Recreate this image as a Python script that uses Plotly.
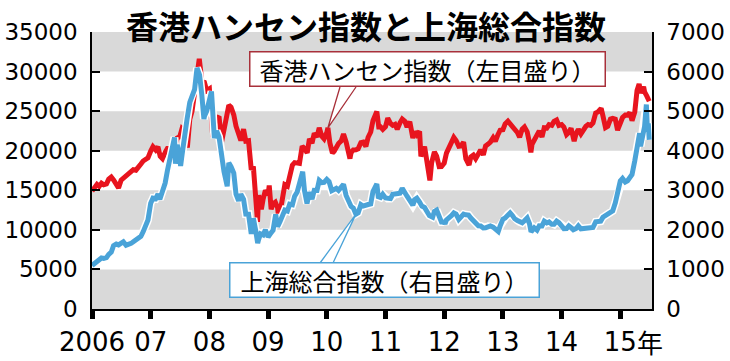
import plotly.graph_objects as go
import pandas as pd

# ---------------- data ----------------
hsi = [
    ("2006-01-01",14900),("2006-01-15",15400),("2006-02-01",15750),("2006-02-15",15500),("2006-03-01",15900),("2006-03-15",15700),
    ("2006-04-01",15800),("2006-04-15",16400),("2006-05-01",16660),("2006-05-15",16300),("2006-06-01",15850),("2006-06-15",15300),
    ("2006-07-01",16270),("2006-07-15",16500),("2006-08-01",16970),("2006-08-15",17100),("2006-09-01",17390),("2006-09-15",17600),
    ("2006-10-01",17540),("2006-10-15",18000),("2006-11-01",18320),("2006-11-15",18700),("2006-12-01",18960),("2006-12-15",19100),
    ("2007-01-01",19960),("2007-01-15",20500),("2007-02-01",20100),("2007-02-15",20500),("2007-03-01",19300),("2007-03-15",19000),
    ("2007-04-01",19800),("2007-04-15",20300),("2007-05-01",20320),("2007-05-15",20500),("2007-06-01",20630),("2007-06-15",21600),
    ("2007-07-01",21770),("2007-07-15",22800),("2007-08-01",22500),("2007-08-17",20400),("2007-09-01",23980),("2007-09-15",25000),
    ("2007-10-01",27140),("2007-10-15",29500),("2007-10-30",31600),("2007-11-15",28800),("2007-12-01",28640),("2007-12-15",27600),
    ("2008-01-01",27810),("2008-01-22",21700),("2008-02-01",23460),("2008-02-15",24100),("2008-03-01",24330),("2008-03-17",21100),
    ("2008-04-01",22850),("2008-04-15",24100),("2008-05-01",25750),("2008-05-15",25500),("2008-06-01",24530),("2008-06-15",23100),
    ("2008-07-01",22100),("2008-07-15",21300),("2008-08-01",22730),("2008-08-15",21200),("2008-09-01",21260),("2008-09-18",17600),
    ("2008-10-01",18020),("2008-10-15",15000),("2008-10-27",11020),("2008-11-03",14380),("2008-11-20",12600),("2008-12-01",13890),
    ("2008-12-15",15000),
    ("2009-01-01",14390),("2009-01-08",15600),("2009-01-20",12600),("2009-02-01",13280),("2009-02-15",13500),("2009-03-01",12810),
    ("2009-03-09",11350),("2009-03-20",12900),("2009-04-01",13580),("2009-04-15",15700),("2009-05-01",15520),("2009-05-15",17000),
    ("2009-06-01",18170),("2009-06-15",18500),("2009-07-01",18380),("2009-07-15",18400),("2009-08-01",20570),("2009-08-15",20300),
    ("2009-09-01",19720),("2009-09-15",21500),("2009-10-01",20960),("2009-10-15",22200),("2009-11-01",21750),("2009-11-15",22900),
    ("2009-12-01",21820),("2009-12-15",21500),
    ("2010-01-01",22300),("2010-01-08",22900),("2010-01-20",21000),("2010-02-05",19700),("2010-02-15",19900),("2010-03-01",20610),
    ("2010-03-15",20900),("2010-04-01",21240),("2010-04-15",22100),("2010-05-01",21110),("2010-05-25",19000),("2010-06-01",19770),
    ("2010-06-15",20100),("2010-07-01",20130),("2010-07-15",20250),("2010-08-01",21030),("2010-08-15",21100),("2010-09-01",20540),
    ("2010-09-15",21700),("2010-10-01",22360),("2010-10-15",23800),("2010-11-08",24960),("2010-11-20",23000),("2010-12-01",23010),
    ("2010-12-15",22700),
    ("2011-01-01",23040),("2011-01-15",24100),("2011-02-01",23450),("2011-02-15",23200),("2011-03-01",23340),("2011-03-15",22700),
    ("2011-04-01",23530),("2011-04-15",24000),("2011-05-01",23720),("2011-05-15",23000),("2011-06-01",23680),("2011-06-20",21600),
    ("2011-07-01",22400),("2011-07-15",22000),("2011-08-01",22440),("2011-08-09",19300),("2011-09-01",20530),("2011-09-15",19000),
    ("2011-10-04",16250),("2011-10-15",18500),("2011-11-01",19860),("2011-11-15",19300),("2011-12-01",17990),("2011-12-15",18000),
    ("2012-01-01",18430),("2012-01-15",19700),("2012-02-01",20390),("2012-02-15",21300),("2012-03-01",21680),("2012-03-15",21300),
    ("2012-04-01",20560),("2012-04-15",20600),("2012-05-01",21090),("2012-05-15",19000),("2012-06-04",18190),("2012-06-15",19200),
    ("2012-07-01",19440),("2012-07-15",19000),("2012-08-01",19800),("2012-08-15",20100),("2012-09-01",19480),("2012-09-15",20600),
    ("2012-10-01",20840),("2012-10-15",21100),("2012-11-01",21640),("2012-11-15",21200),("2012-12-01",22030),("2012-12-15",22600),
    ("2013-01-01",22660),("2013-01-15",23400),("2013-02-01",23730),("2013-02-15",23400),("2013-03-01",23020),("2013-03-15",22500),
    ("2013-04-01",22300),("2013-04-15",21700),("2013-05-01",22740),("2013-05-15",23000),("2013-06-01",22390),("2013-06-15",21000),
    ("2013-06-24",19800),("2013-07-01",20800),("2013-07-15",21300),("2013-08-01",21880),("2013-08-15",22500),("2013-09-01",21730),
    ("2013-09-15",22900),("2013-10-01",22860),("2013-10-15",23300),("2013-11-01",23210),("2013-11-15",23700),("2013-12-01",23880),
    ("2013-12-15",23200),
    ("2014-01-01",23310),("2014-01-15",23000),("2014-02-01",22040),("2014-02-15",22300),("2014-03-01",22840),("2014-03-20",21200),
    ("2014-04-01",22150),("2014-04-15",22700),("2014-05-01",22130),("2014-05-15",22700),("2014-06-01",23080),("2014-06-15",23300),
    ("2014-07-01",23190),("2014-07-15",23500),("2014-08-01",24760),("2014-08-15",24900),("2014-09-04",25360),("2014-09-15",24400),
    ("2014-10-01",22930),("2014-10-15",23100),("2014-11-01",24000),("2014-11-15",24100),("2014-12-01",23990),("2014-12-15",22600),
    ("2015-01-01",23600),("2015-01-15",24200),("2015-02-01",24510),("2015-02-15",24500),("2015-03-01",24820),("2015-03-15",23800),
    ("2015-04-01",24900),("2015-04-15",27600),("2015-04-28",28440),("2015-05-08",27300),("2015-05-26",28080),("2015-06-01",27420),
    ("2015-06-15",26900),("2015-06-30",26250),
]

sse = [
    ("2006-01-01",1100),("2006-01-15",1150),("2006-02-01",1220),("2006-02-15",1260),("2006-03-01",1290),("2006-03-15",1280),
    ("2006-04-01",1298),("2006-04-15",1380),("2006-05-01",1440),("2006-05-15",1600),("2006-06-01",1641),("2006-06-15",1620),
    ("2006-07-01",1672),("2006-07-15",1700),("2006-08-01",1612),("2006-08-15",1620),("2006-09-01",1658),("2006-09-15",1700),
    ("2006-10-01",1753),("2006-10-15",1800),("2006-11-01",1837),("2006-11-15",1950),("2006-12-01",2099),("2006-12-15",2250),
    ("2007-01-01",2675),("2007-01-15",2800),("2007-02-01",2786),("2007-02-15",2900),("2007-02-27",2772),("2007-03-01",2797),
    ("2007-03-15",2900),("2007-04-01",3183),("2007-04-15",3500),("2007-05-01",3841),("2007-05-15",4000),("2007-05-29",4335),
    ("2007-06-04",3670),("2007-06-15",4150),("2007-07-01",3820),("2007-07-06",3615),("2007-07-15",3900),("2007-08-01",4471),
    ("2007-08-15",4800),("2007-09-01",5219),("2007-09-15",5400),("2007-10-01",5552),("2007-10-16",6092),("2007-11-01",5914),
    ("2007-11-15",5400),("2007-11-28",4803),("2007-12-01",4871),("2007-12-15",5000),
    ("2008-01-01",5262),("2008-01-14",5497),("2008-02-01",4320),("2008-02-15",4500),("2008-03-01",4348),("2008-03-15",3900),
    ("2008-04-01",3473),("2008-04-21",3100),("2008-05-01",3693),("2008-05-15",3600),("2008-06-01",3433),("2008-06-15",2900),
    ("2008-07-01",2736),("2008-07-15",2900),("2008-08-01",2775),("2008-08-15",2400),("2008-09-01",2397),("2008-09-18",1895),
    ("2008-10-01",2293),("2008-10-15",2000),("2008-10-28",1664),("2008-11-01",1729),("2008-11-15",1900),("2008-12-01",1871),
    ("2008-12-15",2000),
    ("2009-01-01",1821),("2009-01-15",1900),("2009-02-01",1991),("2009-02-17",2390),("2009-03-01",2082),("2009-03-15",2200),
    ("2009-04-01",2373),("2009-04-15",2500),("2009-05-01",2477),("2009-05-15",2650),("2009-06-01",2633),("2009-06-15",2850),
    ("2009-07-01",2959),("2009-07-15",3200),("2009-08-04",3471),("2009-08-15",3000),("2009-08-31",2667),("2009-09-15",2950),
    ("2009-10-01",2779),("2009-10-15",3000),("2009-11-01",2996),("2009-11-15",3250),("2009-12-01",3195),("2009-12-15",3200),
    ("2010-01-01",3277),("2010-01-15",3220),("2010-02-01",2989),("2010-02-15",3018),("2010-03-01",3051),("2010-03-15",3000),
    ("2010-04-01",3110),("2010-04-15",3150),("2010-05-01",2870),("2010-05-15",2700),("2010-06-01",2592),("2010-06-15",2550),
    ("2010-07-01",2398),("2010-07-15",2430),("2010-08-01",2638),("2010-08-15",2600),("2010-09-01",2639),("2010-09-15",2640),
    ("2010-10-01",2656),("2010-10-15",2970),("2010-11-08",3159),("2010-11-17",2840),("2010-12-01",2820),("2010-12-15",2900),
    ("2011-01-01",2808),("2011-01-15",2790),("2011-02-01",2790),("2011-02-15",2900),("2011-03-01",2905),("2011-03-15",2900),
    ("2011-04-01",2928),("2011-04-15",3050),("2011-05-01",2911),("2011-05-15",2850),("2011-06-01",2743),("2011-06-20",2621),
    ("2011-07-01",2762),("2011-07-15",2800),("2011-08-01",2701),("2011-08-15",2600),("2011-09-01",2568),("2011-09-15",2450),
    ("2011-10-01",2359),("2011-10-21",2318),("2011-11-01",2468),("2011-11-15",2500),("2011-12-01",2333),("2011-12-15",2200),
    ("2012-01-01",2199),("2012-01-06",2148),("2012-01-15",2250),("2012-02-01",2292),("2012-02-15",2360),("2012-03-01",2428),
    ("2012-03-15",2400),("2012-04-01",2262),("2012-04-15",2350),("2012-05-01",2396),("2012-05-15",2380),("2012-06-01",2372),
    ("2012-06-15",2300),("2012-07-01",2225),("2012-07-15",2170),("2012-08-01",2103),("2012-08-15",2100),("2012-09-01",2047),
    ("2012-09-15",2050),("2012-10-01",2086),("2012-10-15",2100),("2012-11-01",2069),("2012-11-15",2030),("2012-12-03",1959),
    ("2012-12-15",2100),
    ("2013-01-01",2269),("2013-01-15",2300),("2013-02-01",2385),("2013-02-15",2430),("2013-03-01",2365),("2013-03-15",2280),
    ("2013-04-01",2237),("2013-04-15",2200),("2013-05-01",2177),("2013-05-15",2230),("2013-06-01",2301),("2013-06-15",2160),
    ("2013-06-25",1950),("2013-07-01",1979),("2013-07-15",2050),("2013-08-01",1994),("2013-08-15",2100),("2013-09-01",2098),
    ("2013-09-15",2220),("2013-10-01",2175),("2013-10-15",2200),("2013-11-01",2141),("2013-11-15",2140),("2013-12-01",2220),
    ("2013-12-15",2180),
    ("2014-01-01",2116),("2014-01-15",2030),("2014-02-01",2033),("2014-02-15",2100),("2014-03-01",2056),("2014-03-15",2000),
    ("2014-04-01",2033),("2014-04-15",2100),("2014-05-01",2026),("2014-05-15",2030),("2014-06-01",2039),("2014-06-15",2070),
    ("2014-07-01",2048),("2014-07-15",2060),("2014-08-01",2202),("2014-08-15",2220),("2014-09-01",2217),("2014-09-15",2320),
    ("2014-10-01",2364),("2014-10-15",2370),("2014-11-01",2420),("2014-11-15",2480),("2014-12-01",2683),("2014-12-15",2950),
    ("2015-01-01",3235),("2015-01-15",3300),("2015-02-01",3210),("2015-02-15",3240),("2015-03-01",3310),("2015-03-15",3400),
    ("2015-04-01",3748),("2015-04-15",4100),("2015-05-01",4442),("2015-05-07",4112),("2015-05-15",4300),("2015-06-01",4612),
    ("2015-06-12",5166),("2015-06-19",4478),("2015-06-24",4690),("2015-06-30",4277),
]

hsi_dates = [d for d, _ in hsi]
hsi_values = [v for _, v in hsi]
sse_dates = [d for d, _ in sse]
sse_values = [v for _, v in sse]

years = list(range(2006, 2016))
year_labels = ["2006", "07", "08", "09", "10", "11", "12", "13", "14", "15"]
left_ticks = list(range(0, 35001, 5000))
right_ticks = list(range(0, 7001, 1000))

title_text = "香港ハンセン指数と上海総合指数"
hsi_label = "香港ハンセン指数（左目盛り）"
sse_label = "上海総合指数（右目盛り）"


def dec_year(s):
    d = pd.Timestamp(s)
    start = pd.Timestamp(year=d.year, month=1, day=1)
    ndays = 366 if d.is_leap_year else 365
    return d.year + (d - start).days / ndays


hsi_x = [dec_year(d) for d in hsi_dates]
sse_x = [dec_year(d) for d in sse_dates]

# ---------------- layout geometry ----------------
W, H = 730, 361
ML, MR, MT, MB = 92, 78, 32, 52
PW, PH = W - ML - MR, H - MT - MB
X0, X1 = 2006.0, 2015.54
YMAX, Y2MAX = 35000, 7000


def px_to_x(px):
    return X0 + (px - ML) / PW * (X1 - X0)


def py_to_y(py, ymax=YMAX):
    return (MT + PH - py) / PH * ymax


def px_to_paper(px):
    return (px - ML) / PW


def py_to_paper(py):
    return (MT + PH - py) / PH


RED = "#e8141e"
BLUE = "#4aa3d8"
GRAY = "#d9d9d9"
NUM_FONT = "DejaVu Sans, Noto Sans CJK JP"
JP_FONT = "Noto Sans CJK JP"

fig = go.Figure()

# Hang Seng (left axis)
fig.add_trace(go.Scatter(x=hsi_x, y=hsi_values, mode="lines", yaxis="y",
                         line=dict(color=RED, width=5), hoverinfo="skip", showlegend=False))
# Shanghai (right axis) with white halo
fig.add_trace(go.Scatter(x=sse_x, y=sse_values, mode="lines", yaxis="y2",
                         line=dict(color="white", width=8), hoverinfo="skip", showlegend=False))
fig.add_trace(go.Scatter(x=sse_x, y=sse_values, mode="lines", yaxis="y2",
                         line=dict(color=BLUE, width=5), hoverinfo="skip", showlegend=False))

shapes = []
# alternating gray bands
for lo in range(0, 35000, 10000):
    shapes.append(dict(type="rect", xref="paper", yref="y", x0=0, x1=1, y0=lo, y1=lo + 5000,
                       fillcolor=GRAY, line=dict(width=0), layer="below"))

# leader for Hang Seng label
tip_i = hsi_dates.index("2010-01-08")
tx, ty = hsi_x[tip_i], hsi_values[tip_i]
by = py_to_y(87)
shapes.append(dict(type="path", xref="x", yref="y",
                   path=f"M {px_to_x(340)} {by} L {tx} {ty} L {px_to_x(356)} {by}",
                   line=dict(color="#a8303a", width=1.3), fillcolor="white", layer="above"))
# leader for Shanghai label
tip_j = sse_dates.index("2010-07-01")
sx, sy = sse_x[tip_j], sse_values[tip_j]
by2 = py_to_y(263, Y2MAX)
shapes.append(dict(type="path", xref="x", yref="y2",
                   path=f"M {px_to_x(320)} {by2} L {sx} {sy} L {px_to_x(333)} {by2}",
                   line=dict(color=BLUE, width=1.3), fillcolor="white", layer="above"))

annotations = [
    dict(text=f"<b>{title_text}</b>", xref="paper", yref="paper", x=px_to_paper(366), y=py_to_paper(25),
         xanchor="center", yanchor="middle", showarrow=False,
         font=dict(family=JP_FONT, size=32, color="black")),
    dict(text=hsi_label, xref="paper", yref="paper", x=px_to_paper(427), y=py_to_paper(69),
         xanchor="center", yanchor="middle", showarrow=False, width=350, height=29,
         bgcolor="white", bordercolor="#a8303a", borderwidth=1.5, borderpad=2,
         font=dict(family=JP_FONT, size=24, color="black")),
    dict(text=sse_label, xref="paper", yref="paper", x=px_to_paper(384), y=py_to_paper(280),
         xanchor="center", yanchor="middle", showarrow=False, width=304, height=29,
         bgcolor="white", bordercolor=BLUE, borderwidth=1.5, borderpad=2,
         font=dict(family=JP_FONT, size=24, color="black")),
    dict(text="年", xref="x", yref="paper", x=years[-1], xshift=15, y=py_to_paper(341),
         xanchor="left", yanchor="middle", showarrow=False,
         font=dict(family=JP_FONT, size=26, color="black")),
]

fig.update_layout(
    width=W, height=H,
    margin=dict(l=ML, r=MR, t=MT, b=MB, pad=0, autoexpand=False),
    paper_bgcolor="white", plot_bgcolor="white",
    showlegend=False,
    shapes=shapes, annotations=annotations,
    xaxis=dict(range=[X0, X1], tickvals=years, ticktext=year_labels,
               ticks="outside", ticklen=8, tickwidth=5, tickcolor="black",
               showline=True, linecolor="black", linewidth=1.5, showgrid=False, zeroline=False,
               tickfont=dict(family=NUM_FONT, size=26, color="black"), ticklabelstandoff=1,
               automargin=False, fixedrange=True),
    yaxis=dict(range=[0, YMAX], tickvals=left_ticks, ticktext=[str(v) for v in left_ticks],
               ticks="inside", ticklen=8, tickwidth=1.5,
               tickcolor="black", showline=True, linecolor="black", linewidth=1.5,
               showgrid=False, zeroline=False, ticklabelstandoff=8, automargin=False,
               tickfont=dict(family=NUM_FONT, size=23, color="black")),
    yaxis2=dict(range=[0, Y2MAX], tickvals=right_ticks, ticktext=[str(v) for v in right_ticks],
                overlaying="y", side="right",
                ticks="inside", ticklen=8, tickwidth=1.5, tickcolor="black",
                showline=True, linecolor="black", linewidth=1.5, showgrid=False, zeroline=False,
                ticklabelstandoff=8, automargin=False,
                tickfont=dict(family=NUM_FONT, size=23, color="black")),
)

fig.write_html("out.html")
